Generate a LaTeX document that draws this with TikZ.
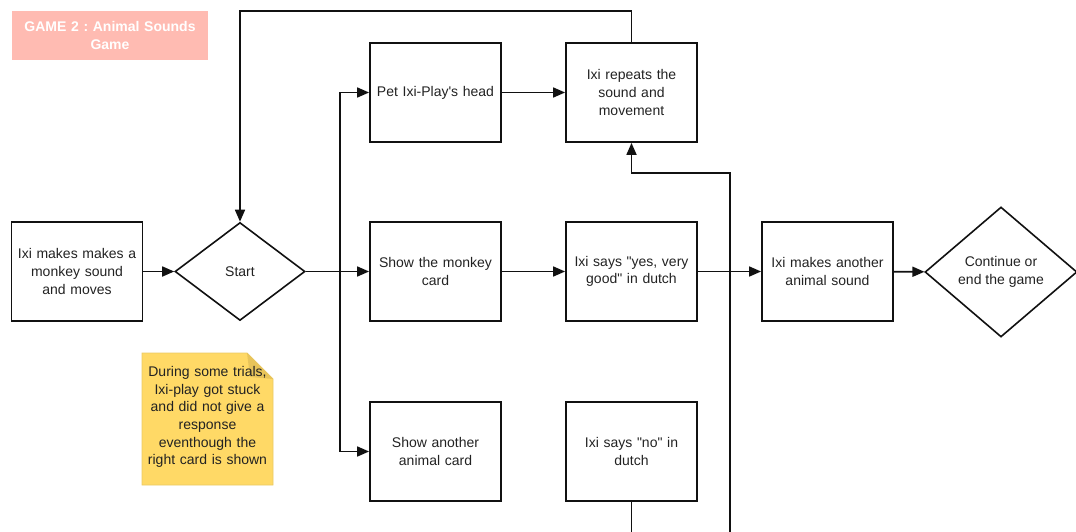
\documentclass[tikz,border=0pt]{standalone}
\usepackage{fontspec}
\setmainfont{Liberation Sans}[Ligatures=TeXOff]
\frenchspacing
\usetikzlibrary{shapes.geometric,arrows.meta}
\definecolor{lineC}{HTML}{111111}
\definecolor{textC}{HTML}{222222}
\definecolor{titleC}{HTML}{FFBBB2}
\definecolor{noteC}{HTML}{FFD966}
\definecolor{noteD}{HTML}{E8C45A}
\definecolor{noteB}{HTML}{EAC964}
\begin{document}
\begin{tikzpicture}[x=1pt,y=-1pt,
  txt/.style={font=\fontsize{14}{17.6}\selectfont, text=textC, align=center},
  box/.style={txt, draw=lineC, line width=1.8pt, minimum width=131pt, minimum height=99pt, text width=128pt, inner sep=0pt},
  dia/.style={txt, draw=lineC, line width=1.6pt, diamond, inner sep=0pt},
  ar/.style={-{Triangle[length=12pt,width=10pt]}, line width=1.7pt, draw=lineC},
  ln/.style={line width=1.7pt, draw=lineC}]
\useasboundingbox (0,0) rectangle (1076,532);

% title
\node[fill=titleC, minimum width=196pt, minimum height=49pt, inner sep=0pt, text width=194pt, align=center,
  font=\fontsize{14}{18}\selectfont\bfseries, text=white] (title) at (110,35.5) {GAME 2 : Animal Sounds\\Game};

% nodes
\node[box] (b1) at (77,271.5) {Ixi makes makes a\\monkey sound\\and moves};
\node[dia, minimum width=130pt, minimum height=98pt] (start) at (240,271.5) {Start};
\node[box] (pet) at (435.5,92.5) {Pet Ixi-Play's head};
\node[box] (rep) at (631.5,92.5) {Ixi repeats the\\sound and\\movement};
\node[box] (mon) at (435.5,271.5) {Show the monkey\\card};
\node[box] (yes) at (631.5,271.5) {Ixi says "yes, very\\good" in dutch};
\node[box] (ano) at (827.5,271.5) {Ixi makes another\\animal sound};
\node[dia, minimum width=152pt, minimum height=130pt] (cont) at (1001,272) {Continue or\\end the game};
\node[box] (card) at (435.5,451.5) {Show another\\animal card};
\node[box] (no) at (631.5,451.5) {Ixi says "no" in\\dutch};

% note
\fill[noteC, draw=noteB, line width=0.8pt] (142,353) -- (247,353) -- (273,379) -- (273,485) -- (142,485) -- cycle;
\fill[noteD] (247,353) -- (273,379) -- (250,377) -- cycle;
\node[txt, text width=131pt, inner sep=0pt] (note) at (207.5,417) {During some trials,\\Ixi-play got stuck\\and did not give a\\response\\eventhough the\\right card is shown};

% connectors
\coordinate (j) at (340,271.5);
\coordinate (topL) at (240,11);
\coordinate (mid) at (730,173);
\coordinate (botR) at (730,532);
\coordinate (botL) at (631.5,532);

\draw[ar] (b1) -- (start);
\draw[ln] (start.east) -- (j);
\draw[ar] (j) |- (pet.west);
\draw[ar] (j) -- (mon.west);
\draw[ar] (j) |- (card.west);
\draw[ar] (pet) -- (rep);
\draw[ar] (rep.north) |- (topL) -- (start.north);
\draw[ar] (mon) -- (yes);
\draw[ar] (yes) -- (ano);
\draw[ar] (botR) -- (mid) -| (rep.south);
\draw[ln] (no.south) -- (botL);
\draw[ar] (ano) -- (cont);
\end{tikzpicture}
\end{document}
